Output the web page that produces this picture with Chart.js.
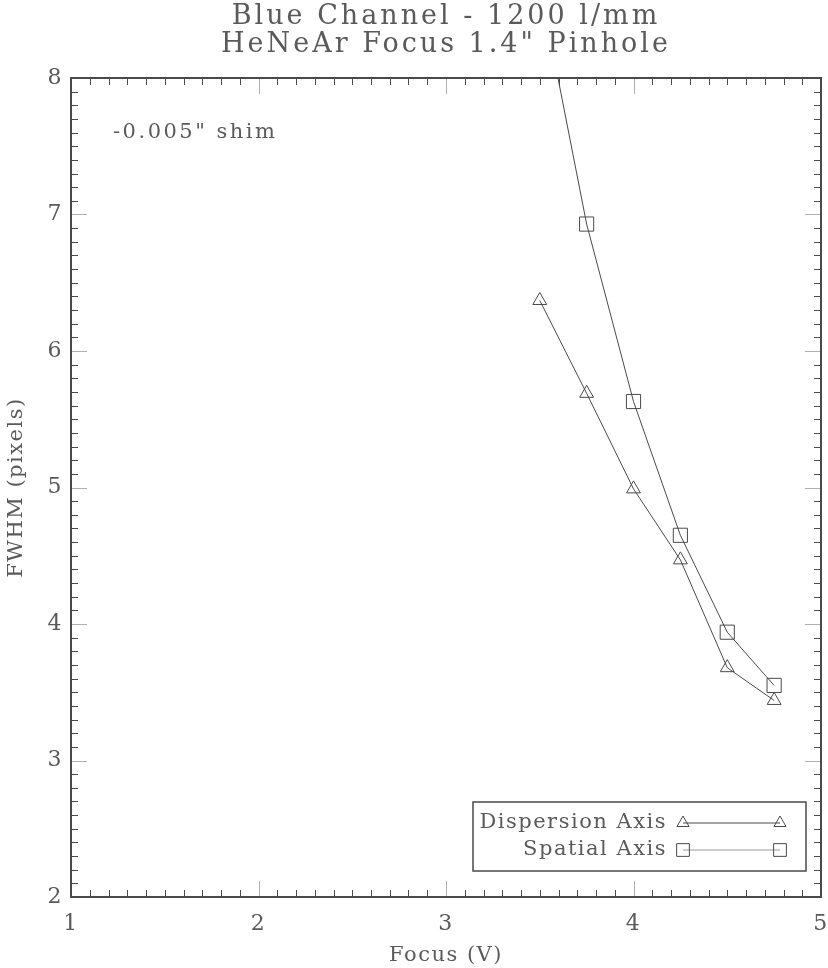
<!DOCTYPE html>
<html lang="en">
<head>
  <meta charset="UTF-8">
  <title>Blue Channel - 1200 l/mm</title>
  <script src="https://cdn.jsdelivr.net/npm/chart.js"></script>
  <style>
    body {
      margin: 0;
      padding: 0;
      background-color: #fff;
    }
    canvas {
      display: block;
    }
  </style>
</head>
<body>
  <canvas id="focusChart" width="828" height="968"></canvas>

  <script>
    // focus voltages and measured FWHM
    var focus = [3.5, 3.75, 4.0, 4.25, 4.5, 4.75];
    var dispersionFwhm = [6.37, 5.69, 4.99, 4.47, 3.68, 3.44];
    var spatialFwhm = [8.68, 6.93, 5.63, 4.65, 3.94, 3.55];
    var xTicks = [1, 2, 3, 4, 5];
    var yTicks = [2, 3, 4, 5, 6, 7, 8];

    var FONT = '"DejaVu Serif", serif';
    var TEXT = '#5a5a5a';
    var LINE = '#4a4a4a';

    function toPoints(xs, ys) {
      return xs.map(function (x, i) { return { x: x, y: ys[i] }; });
    }

    // wider letter spacing, closer to the plotter font
    var spacing = {
      id: 'spacing',
      beforeDraw: function (chart) {
        chart.ctx.letterSpacing = '1.5px';
      }
    };

    // title, frame with inward ticks, note and legend box
    var decorations = {
      id: 'decorations',
      afterDatasetsDraw: function (chart) {
        var ctx = chart.ctx;
        var a = chart.chartArea;
        var xs = chart.scales.x;
        var ys = chart.scales.y;
        ctx.save();

        // minor / major ticks on all four sides
        ctx.lineWidth = 1;
        for (var i = 0; i <= 40; i++) {
          var v = xs.min + i * 0.1;
          var px = Math.round(xs.getPixelForValue(v)) + 0.5;
          var major = i % 10 === 0;
          var len = major ? 16 : 7;
          ctx.strokeStyle = major ? '#b0b0b0' : LINE;
          ctx.beginPath();
          ctx.moveTo(px, a.bottom); ctx.lineTo(px, a.bottom - len);
          ctx.moveTo(px, a.top); ctx.lineTo(px, a.top + len);
          ctx.stroke();
        }
        for (var j = 0; j <= 60; j++) {
          var w = ys.min + j * 0.1;
          var py = Math.round(ys.getPixelForValue(w)) + 0.5;
          var maj = j % 10 === 0;
          var l2 = maj ? 16 : 7;
          ctx.strokeStyle = maj ? '#b0b0b0' : LINE;
          ctx.beginPath();
          ctx.moveTo(a.left, py); ctx.lineTo(a.left + l2, py);
          ctx.moveTo(a.right, py); ctx.lineTo(a.right - l2, py);
          ctx.stroke();
        }

        // frame
        ctx.strokeStyle = LINE;
        ctx.lineWidth = 2;
        ctx.strokeRect(a.left, a.top, a.right - a.left, a.bottom - a.top);

        // title
        ctx.fillStyle = TEXT;
        ctx.textAlign = 'center';
        ctx.textBaseline = 'middle';
        ctx.letterSpacing = '3px';
        ctx.font = '27px ' + FONT;
        var cx = (a.left + a.right) / 2;
        ctx.fillText('Blue Channel - 1200 l/mm', cx, 17);
        ctx.fillText('HeNeAr Focus 1.4" Pinhole', cx, 45);

        // note
        ctx.textAlign = 'left';
        ctx.letterSpacing = '2.5px';
        ctx.font = '21px ' + FONT;
        ctx.fillText('-0.005" shim', a.left + 42, a.top + 55);

        // legend box
        var bx = a.right - 348, by = a.bottom - 95, bw = 333, bh = 69;
        ctx.lineWidth = 1.5;
        ctx.strokeRect(bx, by, bw, bh);
        ctx.letterSpacing = '1.5px';
        ctx.font = '21px ' + FONT;
        ctx.textAlign = 'right';
        var rows = [
          { label: 'Dispersion Axis', style: 'triangle', radius: 7, color: LINE, y: by + 21 },
          { label: 'Spatial Axis', style: 'rect', radius: 9, color: '#9a9a9a', y: by + 48 }
        ];
        rows.forEach(function (r) {
          ctx.fillStyle = TEXT;
          ctx.fillText(r.label, bx + 194, r.y);
          var x0 = bx + 210, x1 = bx + 307;
          ctx.strokeStyle = r.color;
          ctx.lineWidth = 1;
          ctx.beginPath();
          ctx.moveTo(x0, r.y); ctx.lineTo(x1, r.y);
          ctx.stroke();
          ctx.strokeStyle = LINE;
          ctx.fillStyle = 'rgba(0,0,0,0)';
          [x0, x1].forEach(function (x) {
            Chart.helpers.drawPoint(ctx, { pointStyle: r.style, radius: r.radius, borderWidth: 1 }, x, r.y);
          });
        });

        ctx.restore();
      }
    };

    var ctx = document.getElementById('focusChart').getContext('2d');

    var focusChart = new Chart(ctx, {
      type: 'line',
      data: {
        datasets: [{
          label: 'Dispersion Axis',
          data: toPoints(focus, dispersionFwhm),
          borderColor: LINE,
          borderWidth: 1,
          pointStyle: 'triangle',
          pointRadius: 8,
          pointBorderWidth: 1,
          pointBorderColor: LINE,
          pointBackgroundColor: 'rgba(0,0,0,0)',
          tension: 0,
          clip: 0
        }, {
          label: 'Spatial Axis',
          data: toPoints(focus, spatialFwhm),
          borderColor: LINE,
          borderWidth: 1,
          pointStyle: 'rect',
          pointRadius: 10,
          pointBorderWidth: 1,
          pointBorderColor: LINE,
          pointBackgroundColor: 'rgba(0,0,0,0)',
          tension: 0,
          clip: 0
        }]
      },
      options: {
        responsive: false,
        animation: false,
        devicePixelRatio: 1,
        layout: {
          autoPadding: false,
          padding: { top: 78, right: 7, left: 0, bottom: 0 }
        },
        plugins: {
          legend: { display: false },
          title: { display: false },
          tooltip: { enabled: false }
        },
        scales: {
          x: {
            type: 'linear',
            min: 1,
            max: 5,
            afterBuildTicks: function (s) {
              s.ticks = xTicks.map(function (v) { return { value: v }; });
            },
            afterFit: function (s) {
              s.height = 71;
              s.paddingLeft = 0;
              s.paddingRight = 0;
            },
            grid: { display: false, drawTicks: false },
            border: { display: false },
            ticks: {
              padding: 14,
              maxRotation: 0,
              autoSkip: false,
              color: TEXT,
              font: { family: FONT, size: 22, lineHeight: 1.2 }
            },
            title: {
              display: true,
              text: 'Focus (V)',
              color: TEXT,
              padding: { top: 0, bottom: 0 },
              font: { family: FONT, size: 21, lineHeight: 1.2 }
            }
          },
          y: {
            type: 'linear',
            min: 2,
            max: 8,
            afterBuildTicks: function (s) {
              s.ticks = yTicks.map(function (v) { return { value: v }; });
            },
            afterFit: function (s) {
              s.width = 71;
              s.paddingTop = 0;
              s.paddingBottom = 0;
            },
            grid: { display: false, drawTicks: false },
            border: { display: false },
            ticks: {
              padding: 8,
              autoSkip: false,
              color: TEXT,
              font: { family: FONT, size: 22, lineHeight: 1.2 }
            },
            title: {
              display: true,
              text: 'FWHM (pixels)',
              color: TEXT,
              padding: { top: 4, bottom: 0 },
              font: { family: FONT, size: 21, lineHeight: 1.2 }
            }
          }
        }
      },
      plugins: [spacing, decorations]
    });
  </script>
</body>
</html>
